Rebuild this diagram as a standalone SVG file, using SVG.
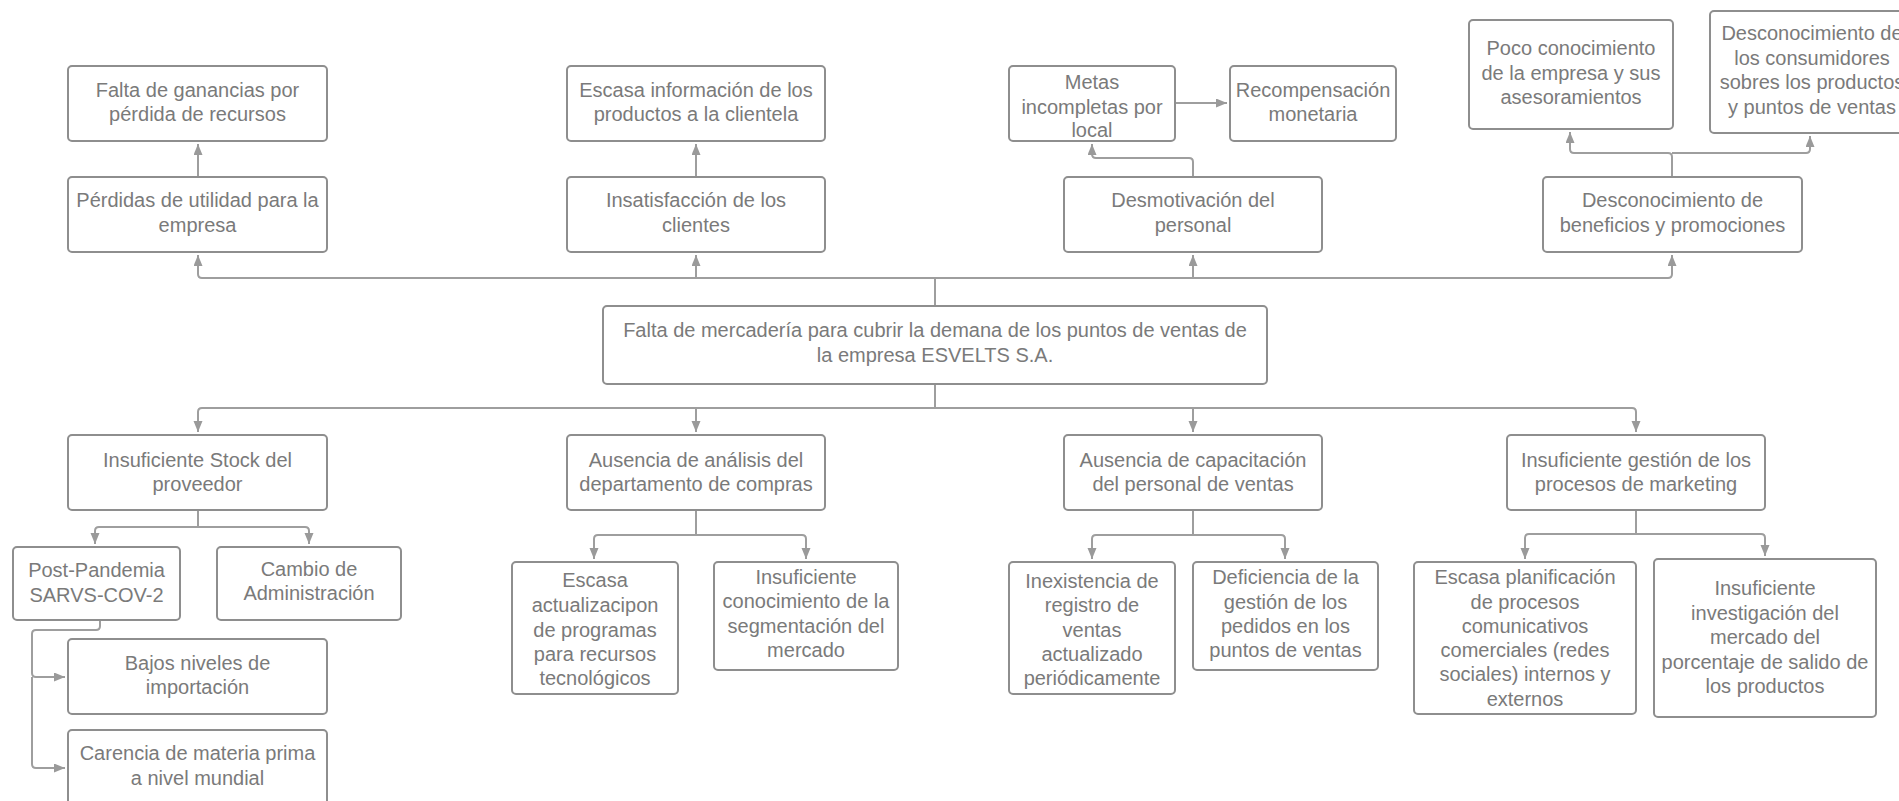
<svg xmlns="http://www.w3.org/2000/svg" width="1899" height="801" viewBox="0 0 1899 801">
<defs>
<marker id="ah" markerUnits="userSpaceOnUse" markerWidth="12" markerHeight="10" refX="11" refY="4.5" orient="auto">
<path d="M0,0 L11,4.5 L0,9 z" fill="#9a9a9a"/>
</marker>
<style>
.b{fill:#ffffff;stroke:#8e8e8e;stroke-width:2}
.t{font-family:"Liberation Sans",Arial,sans-serif;font-size:20px;fill:#7a7a7a;text-anchor:middle}
.c{fill:none;stroke:#9e9e9e;stroke-width:2}
.a{marker-end:url(#ah)}
</style>
</defs>
<rect width="1899" height="801" fill="#ffffff"/>
<g id="connectors">
<path class="c" d="M935,306 V278"/>
<path class="c a" d="M935,278 H202 Q198,278 198,274 V255"/>
<path class="c a" d="M935,278 H1668 Q1672,278 1672,274 V255"/>
<path class="c a" d="M696,278 V255"/>
<path class="c a" d="M1193,278 V255"/>
<path class="c a" d="M198,177 V144"/>
<path class="c a" d="M696,177 V144"/>
<path class="c a" d="M1193,177 V162 Q1193,158 1189,158 H1096 Q1092,158 1092,154 V144"/>
<path class="c a" d="M1175,103 H1227"/>
<path class="c a" d="M1672,177 V157 Q1672,153 1668,153 H1574 Q1570,153 1570,149 V132"/>
<path class="c a" d="M1672,153 H1806 Q1810,153 1810,149 V136"/>
<path class="c" d="M935,384 V408"/>
<path class="c a" d="M935,408 H202 Q198,408 198,412 V432"/>
<path class="c a" d="M935,408 H1632 Q1636,408 1636,412 V432"/>
<path class="c a" d="M696,408 V432"/>
<path class="c a" d="M1193,408 V432"/>
<path class="c" d="M198,510 V527"/>
<path class="c a" d="M198,527 H99 Q95,527 95,531 V544"/>
<path class="c a" d="M198,527 H305 Q309,527 309,531 V544"/>
<path class="c a" d="M100,620 V626 Q100,630 96,630 H36 Q32,630 32,634 V673 Q32,677 36,677 H65"/>
<path class="c a" d="M32,677 V764 Q32,768 36,768 H65"/>
<path class="c" d="M696,510 V535"/>
<path class="c a" d="M696,535 H598 Q594,535 594,539 V559"/>
<path class="c a" d="M696,535 H802 Q806,535 806,539 V559"/>
<path class="c" d="M1193,510 V535"/>
<path class="c a" d="M1193,535 H1096 Q1092,535 1092,539 V559"/>
<path class="c a" d="M1193,535 H1281 Q1285,535 1285,539 V559"/>
<path class="c" d="M1636,510 V534"/>
<path class="c a" d="M1636,534 H1529 Q1525,534 1525,538 V559"/>
<path class="c a" d="M1636,534 H1761 Q1765,534 1765,538 V556"/>
</g>
<g id="n1"><rect class="b" x="68" y="66" width="259" height="75" rx="4"/><text class="t" x="197.5" y="97">Falta de ganancias por</text><text class="t" x="197.5" y="121">pérdida de recursos</text></g>
<g id="n2"><rect class="b" x="68" y="177" width="259" height="75" rx="4"/><text class="t" x="197.5" y="207">Pérdidas de utilidad para la</text><text class="t" x="197.5" y="232">empresa</text></g>
<g id="n3"><rect class="b" x="567" y="66" width="258" height="75" rx="4"/><text class="t" x="696" y="97">Escasa información de los</text><text class="t" x="696" y="121">productos a la clientela</text></g>
<g id="n4"><rect class="b" x="567" y="177" width="258" height="75" rx="4"/><text class="t" x="696" y="207">Insatisfacción de los</text><text class="t" x="696" y="232">clientes</text></g>
<g id="n5"><rect class="b" x="1009" y="66" width="166" height="75" rx="4"/><text class="t" x="1092" y="89">Metas</text><text class="t" x="1092" y="114">incompletas por</text><text class="t" x="1092" y="137">local</text></g>
<g id="n6"><rect class="b" x="1230" y="66" width="166" height="75" rx="4"/><text class="t" x="1313" y="97">Recompensación</text><text class="t" x="1313" y="121">monetaria</text></g>
<g id="n7"><rect class="b" x="1064" y="177" width="258" height="75" rx="4"/><text class="t" x="1193" y="207">Desmotivación del</text><text class="t" x="1193" y="232">personal</text></g>
<g id="n8"><rect class="b" x="1469" y="20" width="204" height="109" rx="4"/><text class="t" x="1571" y="55">Poco conocimiento</text><text class="t" x="1571" y="80">de la empresa y sus</text><text class="t" x="1571" y="104">asesoramientos</text></g>
<g id="n9"><rect class="b" x="1710" y="11" width="204" height="122" rx="4"/><text class="t" x="1812" y="40">Desconocimiento de</text><text class="t" x="1812" y="64.5">los consumidores</text><text class="t" x="1812" y="89">sobres los productos</text><text class="t" x="1812" y="113.5">y puntos de ventas</text></g>
<g id="n10"><rect class="b" x="1543" y="177" width="259" height="75" rx="4"/><text class="t" x="1672.5" y="207">Desconocimiento de</text><text class="t" x="1672.5" y="232">beneficios y promociones</text></g>
<g id="n11"><rect class="b" x="603" y="306" width="664" height="78" rx="4"/><text class="t" x="935" y="337">Falta de mercadería para cubrir la demana de los puntos de ventas de</text><text class="t" x="935" y="362">la empresa ESVELTS S.A.</text></g>
<g id="n12"><rect class="b" x="68" y="435" width="259" height="75" rx="4"/><text class="t" x="197.5" y="467">Insuficiente Stock del</text><text class="t" x="197.5" y="491">proveedor</text></g>
<g id="n13"><rect class="b" x="567" y="435" width="258" height="75" rx="4"/><text class="t" x="696" y="467">Ausencia de análisis del</text><text class="t" x="696" y="491">departamento de compras</text></g>
<g id="n14"><rect class="b" x="1064" y="435" width="258" height="75" rx="4"/><text class="t" x="1193" y="467">Ausencia de capacitación</text><text class="t" x="1193" y="491">del personal de ventas</text></g>
<g id="n15"><rect class="b" x="1507" y="435" width="258" height="75" rx="4"/><text class="t" x="1636" y="467">Insuficiente gestión de los</text><text class="t" x="1636" y="491">procesos de marketing</text></g>
<g id="n16"><rect class="b" x="13" y="547" width="167" height="73" rx="4"/><text class="t" x="96.5" y="577">Post-Pandemia</text><text class="t" x="96.5" y="602">SARVS-COV-2</text></g>
<g id="n17"><rect class="b" x="217" y="547" width="184" height="73" rx="4"/><text class="t" x="309" y="576">Cambio de</text><text class="t" x="309" y="600">Administración</text></g>
<g id="n18"><rect class="b" x="68" y="639" width="259" height="75" rx="4"/><text class="t" x="197.5" y="670">Bajos niveles de</text><text class="t" x="197.5" y="694">importación</text></g>
<g id="n19"><rect class="b" x="68" y="730" width="259" height="76" rx="4"/><text class="t" x="197.5" y="760">Carencia de materia prima</text><text class="t" x="197.5" y="785">a nivel mundial</text></g>
<g id="n20"><rect class="b" x="512" y="562" width="166" height="132" rx="4"/><text class="t" x="595" y="587">Escasa</text><text class="t" x="595" y="612">actualizacipon</text><text class="t" x="595" y="637">de programas</text><text class="t" x="595" y="661">para recursos</text><text class="t" x="595" y="685">tecnológicos</text></g>
<g id="n21"><rect class="b" x="714" y="562" width="184" height="108" rx="4"/><text class="t" x="806" y="584">Insuficiente</text><text class="t" x="806" y="608">conocimiento de la</text><text class="t" x="806" y="633">segmentación del</text><text class="t" x="806" y="657">mercado</text></g>
<g id="n22"><rect class="b" x="1009" y="562" width="166" height="132" rx="4"/><text class="t" x="1092" y="588">Inexistencia de</text><text class="t" x="1092" y="612">registro de</text><text class="t" x="1092" y="637">ventas</text><text class="t" x="1092" y="661">actualizado</text><text class="t" x="1092" y="685">periódicamente</text></g>
<g id="n23"><rect class="b" x="1193" y="562" width="185" height="108" rx="4"/><text class="t" x="1285.5" y="584">Deficiencia de la</text><text class="t" x="1285.5" y="609">gestión de los</text><text class="t" x="1285.5" y="633">pedidos en los</text><text class="t" x="1285.5" y="657">puntos de ventas</text></g>
<g id="n24"><rect class="b" x="1414" y="562" width="222" height="152" rx="4"/><text class="t" x="1525" y="584">Escasa planificación</text><text class="t" x="1525" y="609">de procesos</text><text class="t" x="1525" y="633">comunicativos</text><text class="t" x="1525" y="657">comerciales (redes</text><text class="t" x="1525" y="681">sociales) internos y</text><text class="t" x="1525" y="706">externos</text></g>
<g id="n25"><rect class="b" x="1654" y="559" width="222" height="158" rx="4"/><text class="t" x="1765" y="595">Insuficiente</text><text class="t" x="1765" y="620">investigación del</text><text class="t" x="1765" y="644">mercado del</text><text class="t" x="1765" y="669">porcentaje de salido de</text><text class="t" x="1765" y="693">los productos</text></g>
</svg>
